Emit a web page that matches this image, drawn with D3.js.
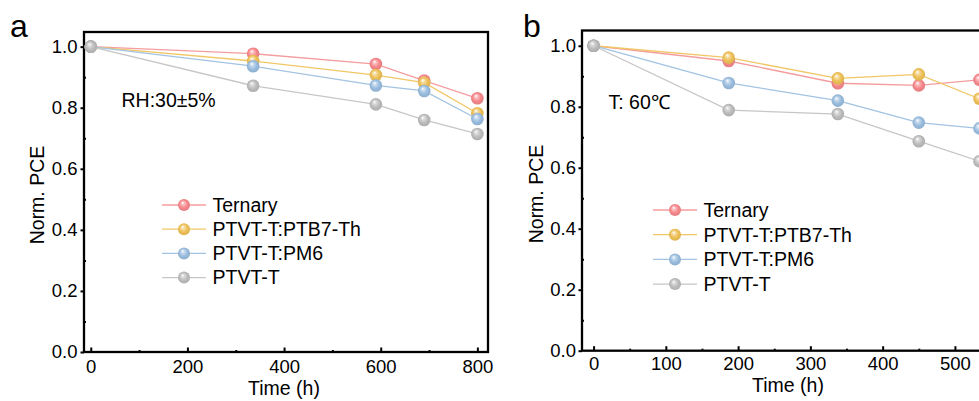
<!DOCTYPE html>
<html>
<head>
<meta charset="utf-8">
<script src="https://cdn.jsdelivr.net/npm/d3@7"></script>
<style>
  html, body { margin: 0; padding: 0; background: #fff; overflow: hidden; }
  svg { display: block; }
  text { font-family: "Liberation Sans", Arial, sans-serif; fill: #000; }
</style>
</head>
<body>
<svg id="chart" width="979" height="401"></svg>
<script>
// ---------- data ----------
const seriesNames = ["Ternary", "PTVT-T:PTB7-Th", "PTVT-T:PM6", "PTVT-T"];

// Panel a (RH:30±5%)
const timeA    = [0, 336, 590, 690, 800];
const ternaryA = [1.000, 0.977, 0.943, 0.889, 0.831];
const ptb7A    = [1.000, 0.953, 0.907, 0.882, 0.782];
const pm6A     = [1.000, 0.936, 0.873, 0.855, 0.763];
const ptvtA    = [1.000, 0.872, 0.811, 0.760, 0.714];

// Panel b (T: 60℃)
const timeB    = [0, 187, 338, 450, 534];
const ternaryB = [1.000, 0.950, 0.877, 0.870, 0.888];
const ptb7B    = [1.000, 0.961, 0.893, 0.906, 0.826];
const pm6B     = [1.000, 0.878, 0.820, 0.748, 0.729];
const ptvtB    = [1.000, 0.789, 0.776, 0.687, 0.621];

const yTicks  = [0, 0.2, 0.4, 0.6, 0.8, 1.0];
const yMinor  = [0.1, 0.3, 0.5, 0.7, 0.9];
const xTicksA = [0, 200, 400, 600, 800];
const xMinorA = [100, 300, 500, 700];
const xTicksB = [0, 100, 200, 300, 400, 500];
const xMinorB = [50, 150, 250, 350, 450];

// ---------- styles ----------
const markerColors = ["#F5868A", "#EDBF55", "#99BCDE", "#BBBBBB"];
const lineColors   = ["#F59C9E", "#F1C766", "#A2C3E2", "#C6C6C6"];

const svg = d3.select("#chart");
const defs = svg.append("defs");
markerColors.forEach((c, i) => {
  const g = defs.append("radialGradient")
    .attr("id", "ball" + i)
    .attr("cx", "0.5").attr("cy", "0.5").attr("r", "0.55")
    .attr("fx", "0.38").attr("fy", "0.3");
  g.append("stop").attr("offset", "0%").attr("stop-color", "#ffffff");
  g.append("stop").attr("offset", "25%").attr("stop-color", d3.interpolateRgb("#ffffff", c)(0.55));
  g.append("stop").attr("offset", "60%").attr("stop-color", c);
  g.append("stop").attr("offset", "100%").attr("stop-color", d3.color(c).darker(0.25));
});

function panel(cfg) {
  const g = svg.append("g");
  const x = d3.scaleLinear().domain(cfg.xDomain).range([cfg.left, cfg.right]);
  const y = d3.scaleLinear().domain([0, cfg.yMax]).range([cfg.bottom, cfg.top]);

  // y axis major (outward) and minor (inward)
  const ya = g.append("g").attr("transform", `translate(${cfg.left},0)`)
    .call(d3.axisLeft(y).tickValues(yTicks).tickFormat(d3.format(".1f"))
      .tickSize(3.5).tickPadding(cfg.yPad));
  ya.select(".domain").remove();
  ya.selectAll("line").attr("stroke", "#000").attr("stroke-width", 2);
  ya.selectAll("text").style("font-size", "18.5px").attr("fill", "#000");
  const ym = g.append("g").attr("transform", `translate(${cfg.left},0)`)
    .call(d3.axisLeft(y).tickValues(yMinor).tickFormat("").tickSize(-2));
  ym.select(".domain").remove();
  ym.selectAll("line").attr("stroke", "#000").attr("stroke-width", 2);

  // x axis major (inward) and minor (inward)
  const xa = g.append("g").attr("transform", `translate(0,${cfg.bottom})`)
    .call(d3.axisBottom(x).tickValues(cfg.xTicks).tickFormat(d3.format("d"))
      .tickSize(-4.5).tickPadding(cfg.xPad));
  xa.select(".domain").remove();
  xa.selectAll("line").attr("stroke", "#000").attr("stroke-width", 2);
  xa.selectAll("text").style("font-size", "18.5px").attr("fill", "#000");
  const xm = g.append("g").attr("transform", `translate(0,${cfg.bottom})`)
    .call(d3.axisBottom(x).tickValues(cfg.xMinor).tickFormat("").tickSize(-2));
  xm.select(".domain").remove();
  xm.selectAll("line").attr("stroke", "#000").attr("stroke-width", 2);

  // frame
  g.append("rect")
    .attr("x", cfg.left).attr("y", cfg.top)
    .attr("width", cfg.right - cfg.left).attr("height", cfg.bottom - cfg.top)
    .attr("fill", "none").attr("stroke", "#000").attr("stroke-width", 2.3);

  // series
  const line = d3.line().x(d => x(d[0])).y(d => y(d[1]));
  cfg.series.forEach((vals, i) => {
    const pts = cfg.time.map((t, k) => [t, vals[k]]);
    g.append("path").datum(pts).attr("d", line)
      .attr("fill", "none").attr("stroke", lineColors[i]).attr("stroke-width", 1.3);
    g.selectAll(null).data(pts).enter().append("circle")
      .attr("cx", d => x(d[0])).attr("cy", d => y(d[1])).attr("r", 6.3)
      .attr("fill", `url(#ball${i})`);
  });

  // legend
  seriesNames.forEach((name, i) => {
    const ly = cfg.legY + i * cfg.legStep;
    g.append("line").attr("x1", cfg.legX0).attr("x2", cfg.legX1)
      .attr("y1", ly).attr("y2", ly)
      .attr("stroke", lineColors[i]).attr("stroke-width", 1.3);
    g.append("circle").attr("cx", (cfg.legX0 + cfg.legX1) / 2).attr("cy", ly).attr("r", 6)
      .attr("fill", `url(#ball${i})`);
    g.append("text").attr("x", cfg.legText).attr("y", ly).attr("dy", "0.35em")
      .style("font-size", "19.5px").text(name);
  });

  // annotation
  g.append("text").attr("x", cfg.noteX).attr("y", cfg.noteY)
    .style("font-size", "19.5px").text(cfg.note);

  // axis titles
  g.append("text").attr("x", cfg.xTitleX).attr("y", cfg.xTitleY)
    .attr("text-anchor", "middle").style("font-size", "19.5px").text("Time (h)");
  g.append("text")
    .attr("transform", `translate(${cfg.yTitleX},${cfg.yTitleY}) rotate(-90)`)
    .attr("text-anchor", "middle").style("font-size", "19.5px").text("Norm. PCE");

  // panel label
  g.append("text").attr("x", cfg.labX).attr("y", cfg.labY)
    .style("font-size", "32px").text(cfg.label);
}

panel({
  label: "a", labX: 10, labY: 37,
  left: 84, right: 488, top: 32, bottom: 352,
  xDomain: [-14, 822], yMax: 1.048,
  xTicks: xTicksA, xMinor: xMinorA, xPad: 8, yPad: 3,
  time: timeA, series: [ternaryA, ptb7A, pm6A, ptvtA],
  legX0: 162, legX1: 206, legText: 212.5, legY: 205, legStep: 24.2,
  note: "RH:30±5%", noteX: 121.5, noteY: 106.5,
  xTitleX: 284, xTitleY: 394.5, yTitleX: 43.5, yTitleY: 195
});

panel({
  label: "b", labX: 523, labY: 37,
  left: 582, right: 986, top: 30.5, bottom: 350.7,
  xDomain: [-16, 543], yMax: 1.05,
  xTicks: xTicksB, xMinor: xMinorB, xPad: 6.5, yPad: 2.5,
  time: timeB, series: [ternaryB, ptb7B, pm6B, ptvtB],
  legX0: 653, legX1: 697, legText: 703.5, legY: 210, legStep: 24.7,
  note: "T: 60℃", noteX: 608.5, noteY: 109,
  xTitleX: 788, xTitleY: 392, yTitleX: 543, yTitleY: 194
});
</script>
</body>
</html>
